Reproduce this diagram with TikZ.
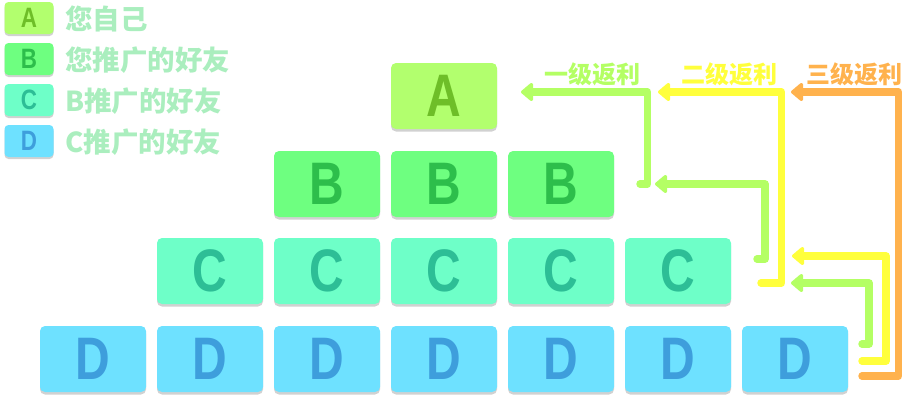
\documentclass[tikz,border=0pt]{standalone}
\usepackage{fontspec}
\setmainfont{Liberation Sans}
\newfontfamily\boxfont[FakeStretch=0.8]{Liberation Sans Bold}
\newfontfamily\cjk{Noto Sans CJK SC}
\usetikzlibrary{arrows.meta,shadows}
\definecolor{fillA}{RGB}{178,255,110}
\definecolor{txtA}{RGB}{110,190,40}
\definecolor{fillB}{RGB}{110,255,128}
\definecolor{txtB}{RGB}{45,190,75}
\definecolor{fillC}{RGB}{110,255,200}
\definecolor{txtC}{RGB}{45,190,150}
\definecolor{fillD}{RGB}{110,225,255}
\definecolor{txtD}{RGB}{62,158,220}
\definecolor{legtxt}{RGB}{170,238,190}
\definecolor{arrG}{RGB}{180,255,100}
\definecolor{arrY}{RGB}{255,255,60}
\definecolor{arrO}{RGB}{255,178,77}
\tikzset{
  x=1pt,y=-1pt,
  bigbox/.style={rounded corners=5pt,minimum width=106pt,minimum height=66pt,inner sep=0pt,
     font=\boxfont\fontsize{60}{60}\selectfont,
     drop shadow={shadow xshift=0pt,shadow yshift=-2.5pt,opacity=0.18,fill=black}},
  legbox/.style={rounded corners=4pt,minimum width=49pt,minimum height=32pt,inner sep=0pt,
     font=\boxfont\fontsize{28}{28}\selectfont,
     drop shadow={shadow xshift=0pt,shadow yshift=-2pt,opacity=0.18,fill=black}},
  levA/.style={fill=fillA,text=txtA},
  levB/.style={fill=fillB,text=txtB},
  levC/.style={fill=fillC,text=txtC},
  levD/.style={fill=fillD,text=txtD},
  legtext/.style={anchor=west,inner sep=0pt,text=legtxt,font=\cjk\bfseries\fontsize{27.5}{27.5}\selectfont},
  arrlabel/.style={inner sep=0pt,font=\cjk\bfseries\fontsize{24}{24}\selectfont},
  flow/.style={line width=7.5pt,line cap=round,line join=round,
     -{Triangle[length=13pt,width=21pt,round]}},
}
\begin{document}
\begin{tikzpicture}
\useasboundingbox (0,0) rectangle (904,402);
% legend
\node[legbox,levA] (la) at (29,18) {A};
\node[legbox,levB] (lb) at (29,59) {B};
\node[legbox,levC] (lc) at (29,100) {C};
\node[legbox,levD] (ld) at (29,141) {D};
\node[legtext] (ta) at (65,19) {您自己};
\node[legtext] (tb) at (65,60) {您推广的好友};
\node[legtext] (tc) at (65,101) {B推广的好友};
\node[legtext] (td) at (65,142) {C推广的好友};
% pyramid
\node[bigbox,levA] (a) at (444,96) {A};
\foreach \i/\x in {1/327,2/444,3/561}{\node[bigbox,levB] (b\i) at (\x,184) {B};}
\foreach \i/\x in {1/210,2/327,3/444,4/561,5/678}{\node[bigbox,levC] (c\i) at (\x,271) {C};}
\foreach \i/\x in {1/93,2/210,3/327,4/444,5/561,6/678,7/795}{\node[bigbox,levD] (d\i) at (\x,359) {D};}
% labels
\node[arrlabel,text=arrG] (l1) at (592,74) {一级返利};
\node[arrlabel,text=arrY] (l2) at (729,74) {二级返利};
\node[arrlabel,text=arrO] (l3) at (854,74) {三级返利};
% arrow coordinates
\coordinate (g1s) at (640,184); \coordinate (g1t) at (521,92);
\coordinate (y1s) at (761,283); \coordinate (y1t) at (658,92);
\coordinate (o1s) at (862,376); \coordinate (o1t) at (791,92);
\coordinate (g2s) at (757,259); \coordinate (g2t) at (655,184);
\coordinate (y2s) at (862,361); \coordinate (y2t) at (792,256);
\coordinate (g3s) at (862,344); \coordinate (g3t) at (791,283);
% arrows
\draw[flow,arrO] (o1s) -- (898.5,376) -- (898.5,92) -- (o1t);
\draw[flow,arrY] (y2s) -- (886,361) -- (886,256) -- (y2t);
\draw[flow,arrG] (g3s) -- (869,344) -- (869,283) -- (g3t);
\draw[flow,arrY] (y1s) -- (781.5,283) -- (781.5,92) -- (y1t);
\draw[flow,arrG] (g2s) -- (765,259) -- (765,184) -- (g2t);
\draw[flow,arrG] (g1s) -- (647.5,184) -- (647.5,92) -- (g1t);
\end{tikzpicture}
\end{document}
